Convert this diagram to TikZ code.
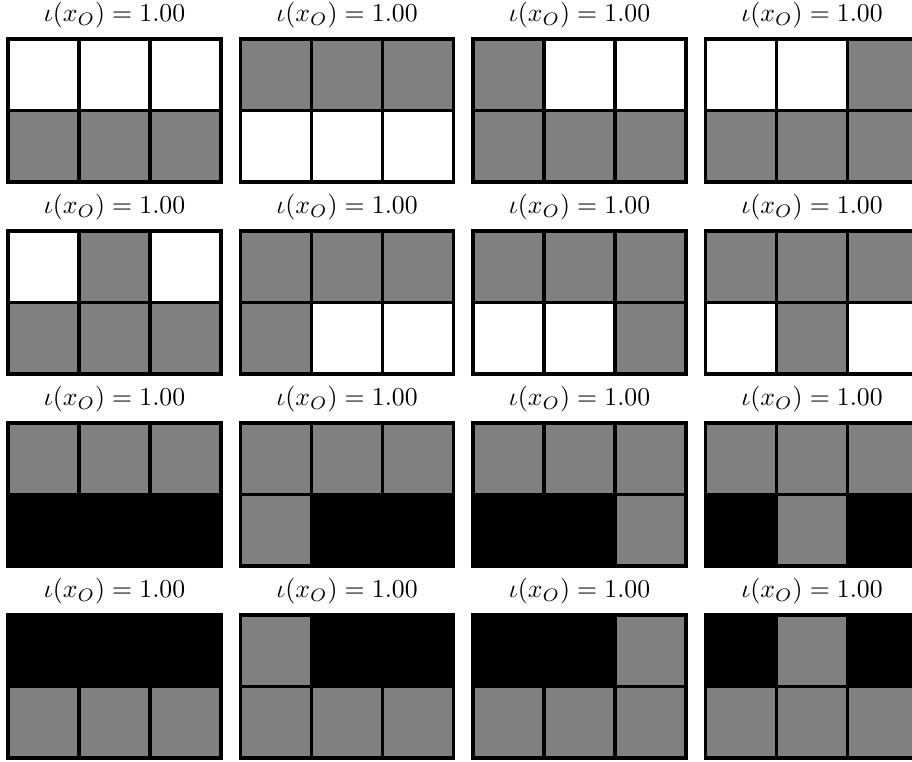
\documentclass[tikz,border=0pt]{standalone}
\usepackage{amsmath}
\usepackage{tikz}
\usetikzlibrary{positioning}

\colorlet{cellw}{white}
\colorlet{cellg}{black!50}
\colorlet{cellk}{black}

\begin{document}
\begin{tikzpicture}[
        x=0.3885pt, y=-0.3885pt,
        cellbox/.style={draw=black, line width=1.3pt},
        paneltitle/.style={anchor=base, inner sep=0pt},
    ]

    \useasboundingbox (0,0) rectangle (912,762);
    \clip (0,0) rectangle (912,762);

    \foreach \r/\c/\cells in {
        0/0/{w,w,w,g,g,g}, 0/1/{g,g,g,w,w,w}, 0/2/{g,w,w,g,g,g}, 0/3/{w,w,g,g,g,g},
        1/0/{w,g,w,g,g,g}, 1/1/{g,g,g,g,w,w}, 1/2/{g,g,g,w,w,g}, 1/3/{g,g,g,w,g,w},
        2/0/{g,g,g,k,k,k}, 2/1/{g,g,g,g,k,k}, 2/2/{g,g,g,k,k,g}, 2/3/{g,g,g,k,g,k},
        3/0/{k,k,k,g,g,g}, 3/1/{g,k,k,g,g,g}, 3/2/{k,k,g,g,g,g}, 3/3/{k,g,k,g,g,g}} {

        \node[paneltitle] (title-\r-\c) at (114.5+232.5*\c, 22+192*\r) {$\iota(x_O) = 1.00$};

        \foreach \f [count=\i from 0] in \cells {
            \pgfmathsetmacro{\xa}{8+232.5*\c+71*mod(\i,3)}
            \pgfmathsetmacro{\ya}{39+192*\r+71.5*div(\i,3)}
            \filldraw[cellbox, fill=cell\f] (\xa,\ya) rectangle ++(71,71.5);
        }
    }

\end{tikzpicture}
\end{document}
